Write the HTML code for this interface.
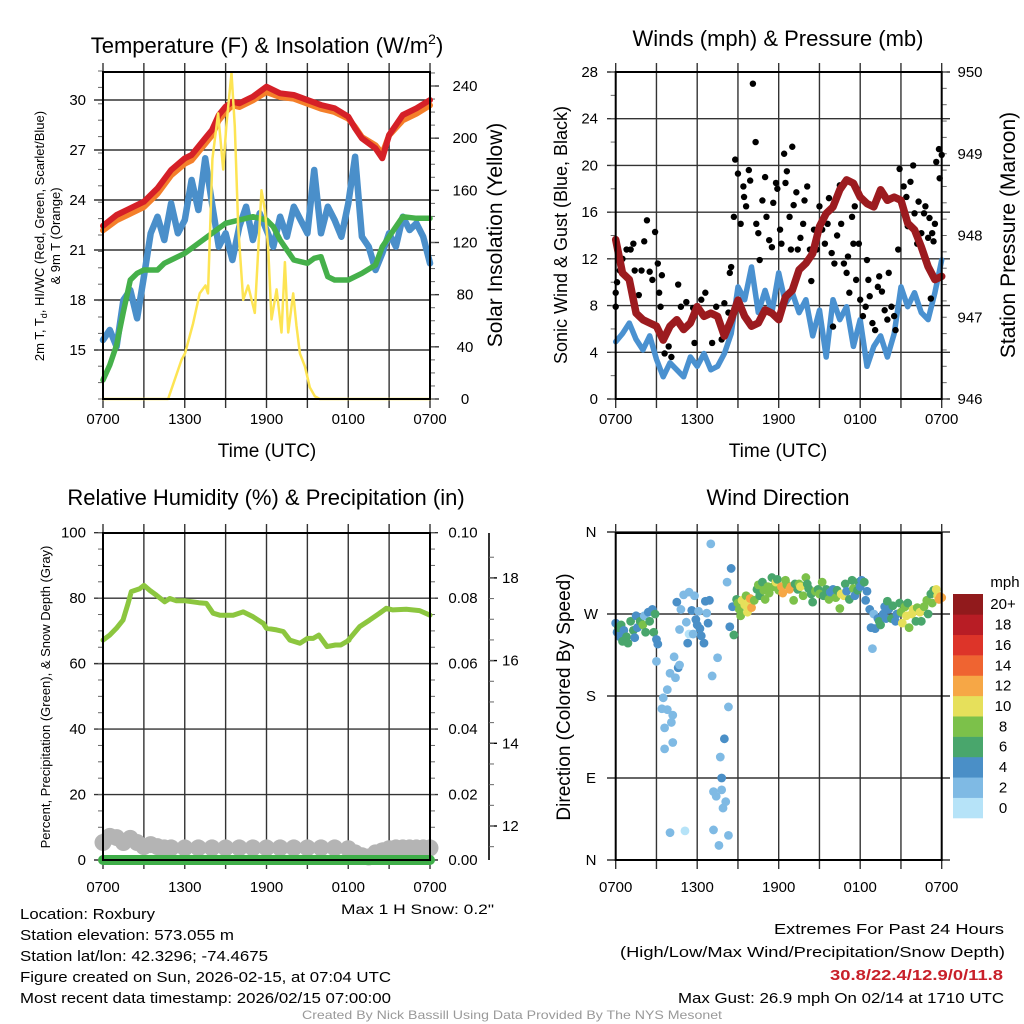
<!DOCTYPE html>
<html><head><meta charset="utf-8"><title>Mesonet Station Meteogram</title>
<style>
html,body{margin:0;padding:0;background:#fff;}
svg{display:block;font-family:"Liberation Sans",Arial,sans-serif;}
</style></head>
<body>
<svg id="chart" width="1024" height="1024" viewBox="0 0 1024 1024" xmlns="http://www.w3.org/2000/svg">
<rect x="0" y="0" width="1024" height="1024" fill="#fff"/>
<g id="titles" font-size="22" text-anchor="middle" fill="#000">
<text x="267" y="53">Temperature (F) &amp; Insolation (W/m<tspan dy="-9" font-size="14">2</tspan><tspan dy="9">)</tspan></text>
<text x="778" y="46">Winds (mph) &amp; Pressure (mb)</text>
<text x="266" y="505">Relative Humidity (%) &amp; Precipitation (in)</text>
<text x="778" y="505">Wind Direction</text>
</g>
<g font-size="19" text-anchor="middle">
<text x="267" y="457">Time (UTC)</text>
<text x="778" y="457">Time (UTC)</text>
</g>
<text transform="translate(44,236) rotate(-90)" font-size="13" text-anchor="middle">2m T, T<tspan font-size="9" dy="3">d</tspan><tspan dy="-3">, HI/WC (Red, Green, Scarlet/Blue)</tspan></text>
<text transform="translate(60,236) rotate(-90)" font-size="13" text-anchor="middle">&amp; 9m T (Orange)</text>
<text transform="translate(502,235) rotate(-90)" font-size="21" text-anchor="middle">Solar Insolation (Yellow)</text>
<text transform="translate(567,235) rotate(-90)" font-size="18" text-anchor="middle">Sonic Wind &amp; Gust (Blue, Black)</text>
<text transform="translate(1015,235) rotate(-90)" font-size="21" text-anchor="middle">Station Pressure (Maroon)</text>
<text transform="translate(50,697) rotate(-90)" font-size="13" text-anchor="middle">Percent, Precipitation (Green), &amp; Snow Depth (Gray)</text>
<text transform="translate(570,697) rotate(-90)" font-size="19" text-anchor="middle">Direction (Colored By Speed)</text>
<text x="1005" y="587" font-size="15" text-anchor="middle">mph</text>
<text x="341" y="914" font-size="14" textLength="153" lengthAdjust="spacingAndGlyphs">Max 1 H Snow: 0.2"</text>
<g font-size="15" fill="#000">
<text x="20" y="919" textLength="135" lengthAdjust="spacingAndGlyphs">Location: Roxbury</text>
<text x="20" y="940" textLength="214" lengthAdjust="spacingAndGlyphs">Station elevation: 573.055 m</text>
<text x="20" y="961" textLength="248" lengthAdjust="spacingAndGlyphs">Station lat/lon: 42.3296; -74.4675</text>
<text x="20" y="982" textLength="371" lengthAdjust="spacingAndGlyphs">Figure created on Sun, 2026-02-15, at 07:04 UTC</text>
<text x="20" y="1003" textLength="371" lengthAdjust="spacingAndGlyphs">Most recent data timestamp: 2026/02/15 07:00:00</text>
<text x="774" y="934" textLength="230" lengthAdjust="spacingAndGlyphs">Extremes For Past 24 Hours</text>
<text x="620" y="957" textLength="385" lengthAdjust="spacingAndGlyphs">(High/Low/Max Wind/Precipitation/Snow Depth)</text>
<text x="830" y="980" textLength="173" lengthAdjust="spacingAndGlyphs" font-weight="bold" fill="#c8202a">30.8/22.4/12.9/0/11.8</text>
<text x="678" y="1003" textLength="326" lengthAdjust="spacingAndGlyphs">Max Gust: 26.9 mph On 02/14 at 1710 UTC</text>
</g>
<text x="302" y="1019" font-size="12" fill="#999" textLength="420" lengthAdjust="spacingAndGlyphs">Created By Nick Bassill Using Data Provided By The NYS Mesonet</text>
</svg>
<script>
// ---------- data ----------
const xTickLabels = ["0700","1300","1900","0100","0700"];
const tempTicks = [15,18,21,24,27,30];
const solarTicks = [0,40,80,120,160,200,240];
const windTicks = [0,4,8,12,16,20,24,28];
const presTicks = [946,947,948,949,950];
const rhTicks = [0,20,40,60,80,100];
const precipTicks = ["0.00","0.02","0.04","0.06","0.08","0.10"];
const snowTicks = [12,14,16,18];
const dirLabels = ["N","E","S","W","N"];
const speedBinLabels = ["0","2","4","6","8","10","12","14","16","18","20+"];
const speedBinColors = ["#b6e3f8","#7fbae4","#4a8fc7","#49a66c","#7cc14a","#e6e05b","#f6a746","#ef6431","#dd3429","#b81d25","#911a1c"];

const tempT = [0,1,2,3,4,5,6,6.5,7,7.5,8,8.5,9,9.5,10,11,12,13,14,15,16,17,18,18.5,19,20,20.5,21,22,23,24];
const tempV = [22.45,23.1,23.5,23.9,24.7,25.8,26.5,26.7,27.2,27.7,28.2,29.1,29.6,29.9,29.8,30.2,30.8,30.4,30.3,30.0,29.7,29.5,29.0,28.3,27.7,27.1,26.5,27.9,29.1,29.5,30.0];
const temp9mV = [22.3,22.9,23.3,23.7,24.5,25.6,26.3,26.5,27.0,27.5,28.0,28.9,29.4,29.8,29.7,30.1,30.6,30.3,30.2,29.9,29.6,29.4,29.0,28.5,27.9,27.4,26.9,28.0,28.9,29.3,29.8];
const dewT = [0,0.5,1,1.5,2,2.5,3,4,4.5,5,6,7,8,9,10,11,12,12.5,13,14,15,15.5,16,16.5,17,18,19,20,20.5,21,22,23,24];
const dewV = [13.2,14.1,15.3,17.3,19.2,19.6,19.8,19.8,20.2,20.4,20.8,21.4,22,22.6,22.8,23,22.8,22.4,21.6,20.4,20.2,20.5,20.6,19.4,19.2,19.2,19.6,20.1,21.2,21.8,23,22.9,22.9];
const chillV = [15.6,16.2,15.2,18,18.6,16.9,19.4,22,23,21.6,23.8,22,22.8,25.2,23.4,26.5,23.8,21.2,22,20.4,22.4,23.6,21.6,23.2,22.2,21.2,23,21.8,23.6,22.8,22,25.8,22,23.6,22.8,21.8,23.8,26.6,21.8,21.2,19.8,20.8,22,21.2,23,22.2,22.6,21.8,20.2];
const solarT = [0,4.78,5.76,6.02,6.61,7.1,7.52,7.71,8.03,8.45,8.82,9.06,9.43,9.67,9.92,10.29,10.65,11.14,11.63,11.88,12.12,12.37,12.74,13.1,13.35,13.59,13.96,14.2,14.45,14.82,15.18,15.55,15.92,24];
const solarV = [0,0,30,35,58,81,87,81,184,219,176,210,250,209,132,76,87,66,160,145,117,61,84,51,105,51,81,56,35,25,9,2,0,0];

const windV = [4.9,5.6,6.5,5.1,4.2,5.4,3.4,1.9,3.1,2.5,1.9,3.6,2.8,3.9,2.5,2.8,3.9,5.6,9.6,8.5,11.3,7.4,9.3,7.4,10.8,8.2,9.1,7.4,8.5,5.4,7.6,3.6,8.5,6.8,7.9,4.5,6.8,2.8,4.5,5.4,3.6,5.6,9.6,7.9,9.1,7.4,6.8,9.1,11.9];
const presV = [947.95,947.54,947.46,947.05,946.97,946.93,946.89,946.72,946.89,946.97,946.85,946.93,947.13,947.01,947.05,947.01,946.77,946.97,947.21,947.01,946.89,946.93,947.09,947.05,946.97,947.25,947.33,947.58,947.66,947.78,948.11,948.27,948.35,948.56,948.68,948.64,948.47,948.39,948.35,948.56,948.43,948.47,948.43,948.15,948.07,947.86,947.62,947.46,947.50];
const gustT = [0,0,0.1,0.3,0.5,0.8,1.1,1.3,1.4,1.7,1.9,2.1,2.3,2.5,2.7,2.9,3.1,3.4,3.2,3.3,3.6,3.9,4.1,4.6,4.8,5.2,5.7,5.8,6.3,6.6,7.1,7.4,7.8,8,8.3,8.4,8.5,8.7,8.8,9,9.2,9.4,9.45,9.6,9.8,9.9,10.1,10.3,10.35,10.5,10.6,10.8,11,11.1,11.3,11.5,11.6,11.8,11.9,12.1,12.2,12.4,12.5,12.6,12.8,12.9,13,13.1,13.3,13.4,13.6,13.8,13.9,14.1,14.3,14.4,14.6,14.8,15,15.2,15.4,15.6,15.7,15.9,16,16.1,16.3,16.5,16.6,16.8,17,17.1,17.2,17.4,17.5,17.6,17.7,17.9,18,18.2,18.4,18.5,18.6,18.7,18.9,19.1,19.3,19.4,19.6,19.8,20,20.1,20.3,20.5,20.6,20.8,20.9,21.2,21.4,21.5,21.7,21.9,22,22.2,22.3,22.5,22.7,22.8,23,23.1,23.2,23.3,23.4,23.5,23.6,23.8,23.85,24];
const gustV = [9.1,7.9,10,11,12,12.8,12.8,13.3,11,8.9,11,13.5,15.3,10.9,10.2,14.3,11.6,10.6,9.1,7.9,3.9,4.5,3.6,9.8,7.9,8.3,7.8,4.8,8.5,9.1,4.8,7.9,5.1,8.2,7.4,10.8,11.3,15.6,20.5,19.3,15,18.2,17.3,16.5,19.6,18.7,27,22,15,14.2,11.9,17,19,15.6,13.6,13,16.8,18.5,18,14.5,13.3,21,18.5,19.5,15.6,12.8,21.6,16.6,17.7,12.8,13.8,15,17,18.2,12.8,10.1,14.5,12.8,16.5,14.5,13.3,15,17.2,12.5,6.2,11.6,14,18.3,15,11.6,10.8,12.2,9.1,15.6,13.3,16.5,10.2,13.3,8.5,7.1,7.9,11.9,10.2,8.8,6.5,5.9,9.6,10.5,9.2,7.6,6.8,10.8,7.9,7.1,5.9,12.8,19.7,18.2,17.3,14.8,18.6,20,15.9,13.3,16.9,14.2,15.9,16.5,13.8,15.5,8.6,14.2,13.5,15,20.3,21.4,18.9,20.9];

const rhT = [0,0.49,0.98,1.47,1.84,2.08,2.69,3.01,3.43,3.92,4.53,4.9,5.39,6.03,7.03,7.59,8.08,8.57,9.55,10.29,11.02,11.76,12.0,12.74,13.23,13.72,14.45,15.01,15.43,15.84,16.45,17.06,17.45,18.06,18.01,18.84,19.57,20.3,20.79,21.28,22.26,23.24,24];
const rhV = [67.2,68.7,70.8,73.3,78.4,82,82.9,83.9,82.4,80.9,78.9,79.9,79.2,79.2,78.6,78.4,75.4,74.8,74.8,75.8,74.3,72.3,70.8,70.3,69.8,67.2,66.2,67.7,67.7,68.7,65.2,65.7,65.7,67.2,67.2,71.3,73.3,75.4,76.9,76.4,76.6,76.2,74.8];
const snowT = [0,0.5,1,1.5,2,2.5,3,3.5,4,4.5,5,6,7,8,9,10,11,12,13,14,15,16,17,18,18.5,19,19.5,20,20.5,21,21.5,22,22.5,23,23.5,24];
const snowV = [11.6,11.75,11.72,11.6,11.7,11.6,11.5,11.55,11.5,11.47,11.47,11.47,11.47,11.47,11.47,11.47,11.47,11.47,11.47,11.47,11.47,11.47,11.47,11.45,11.35,11.28,11.25,11.35,11.4,11.45,11.47,11.47,11.47,11.47,11.47,11.47];
const precipT = [0,6,12,18,24];
const precipV = [0,0,0,0,0];

const dirT = [0,0.1,0.2,0.3,0.4,0.5,0.6,0.8,0.9,1.1,1.3,1.4,1.5,1.6,1.8,2.0,2.1,2.2,2.4,2.5,2.7,2.8,2.9,3.0,3.1,
 3.0,3.5,3.8,4,3.8,3.4,3.6,3.6,4,4.1,4.2,4.2,4.3,4.4,4.6,4.7,4.5,4.7,4.8,5,5.1,5.2,5.3,5.4,5.4,5.6,5.7,5.8,5.9,6,6.1,6.2,6.3,6.5,6.6,6.7,6.8,6.9,7,7.1,7.2,7.2,7.4,7.5,7.6,7.7,7.8,7.8,7.9,8,8.1,8.2,8.3,8.3,8.4,8.5,8.6,8.7,8.9,
 9.0,9.1,9.2,9.3,9.5,9.6,9.7,9.8,9.9,10.0,10.2,10.4,10.5,10.6,10.8,10.9,11.0,11.2,11.3,11.5,11.6,11.8,11.9,12.0,12.2,12.3,12.5,12.6,12.8,12.9,13.1,13.2,13.4,13.5,13.6,13.8,14.0,14.1,14.2,14.4,14.5,14.7,14.9,15.0,15.2,15.3,15.5,15.7,15.8,16.0,16.2,16.3,16.5,16.6,16.8,16.9,17.0,17.2,17.4,17.5,17.6,17.8,17.9,18.0,18.1,18.3,18.4,18.5,18.7,18.8,18.9,19.0,19.1,19.3,19.4,19.5,19.7,19.8,19.9,20.0,20.1,20.3,20.4,20.6,20.7,20.9,21.0,21.1,21.3,21.4,21.5,21.6,21.8,21.9,22.1,22.2,22.4,22.5,22.7,22.9,23.0,23.2,23.3,23.4,23.6,23.7,23.8,23.9,24.0];
const dirD = [260,250,255,245,258,240,252,245,238,262,252,244,268,255,262,258,268,250,272,262,275,250,270,242,237,
 218,178,187,205,165,166,145,122,30,151,129,159,223,200,211,214,283,253,275,291,32,261,238,294,248,274,248,290,264,258,273,254,246,238,284,271,260,285,347,202,33,75,70,222,16,113,77,90,57,133,64,305,168,27,256,320,278,247,286,
 282,275,268,285,280,290,272,283,287,277,285,297,302,290,305,296,286,300,293,310,300,305,308,296,300,293,307,302,297,300,285,303,297,303,300,290,310,303,298,292,283,295,297,292,305,290,297,286,294,297,288,296,276,292,290,303,295,286,307,298,290,296,305,300,307,305,285,295,275,255,232,270,254,265,262,258,270,278,265,284,275,265,279,262,270,282,272,260,278,268,282,255,270,275,262,277,272,262,278,285,270,292,282,296,297,290,286,289,288];
const dirS = [5,4.5,6.5,4.5,7,7,5,7,6.5,6.5,6.5,4.5,4.5,4.5,6.5,8.5,3,6.5,4,6.5,4.5,6.5,6.5,4.5,4.5,
 3,3,3,3,3,3,3,3,3,3,3,3,3,3,4.5,3.5,4.5,3,3,3,1,3,4.5,3,1.5,4.5,2.5,3,4.5,5,3,4.5,5,5,4.5,3,5,4.5,3,3,3,3,3,3,3,3,3,5,3,4.5,3,3,3,3,4.5,4.5,4.5,6.5,6.5,
 9,8.5,8.5,10.5,10.5,9,10.5,11,12.5,13,9,7,8,6.5,6.5,9,8.5,8.5,8.5,7.5,8.5,10.5,6.5,9,12.5,13,9,8,13,12.5,8.5,6.5,6.5,8.5,11,8.5,8.5,6.5,6.5,6.5,6.5,8.5,6.5,8.5,8.5,6.5,6.5,8.5,4.5,4.5,8.5,7,8.5,10.5,10,6.5,4.5,6.5,6.5,8.5,4.5,6.5,6.5,5,4.5,6.5,4.5,4.5,4.5,4.5,3,3,4.5,4.5,6.5,6.5,4.5,4.5,4.5,6.5,4.5,6.5,6.5,4.5,4.5,6.5,8.5,10.5,8.5,10.5,6.5,9,11,10.5,6.5,8.5,10.5,6.5,8.5,8.5,6.5,6.5,8.5,6.5,10.5,10.5,12.5,13,12.5];

// ---------- helpers ----------
const NS = "http://www.w3.org/2000/svg";
const svg = document.getElementById("chart");
function mk(tag, attrs, parent) {
  const e = document.createElementNS(NS, tag);
  for (const k in attrs) e.setAttribute(k, attrs[k]);
  (parent || svg).appendChild(e);
  return e;
}
function txt(x, y, s, size, anchor, parent) {
  const t = mk("text", {x: x, y: y, "font-size": size, "text-anchor": anchor || "middle"}, parent);
  t.textContent = s;
  return t;
}
function pts(ts, vs, fx, fy) {
  return ts.map((t, i) => fx(t).toFixed(1) + "," + fy(vs[i]).toFixed(1)).join(" ");
}
const halfHours = chillV.map((v, i) => i * 0.5);

// ---------- axis functions ----------
const xL = h => 103 + h * 327 / 24;
const xR = h => 615.7 + h * 326 / 24;
const yTemp = v => 399 - (v - 12.06) * 50 / 3;
const ySolar = v => 399 - v * 313 / 240;
const yWind = v => 399 - v * 327 / 28;
const yPres = p => 399 - (p - 946) * 327 / 4;
const yRH = v => 860 - v * 3.273;
const yPrecip = v => 860 - v * 3273;
const ySnow = v => 826 - (v - 12) * 41.35;
const yDir = d => 860 - d * 328 / 360;

function frame(x0, x1, y0, y1, name) {
  const g = mk("g", {});
  
  
  for (let k = 0; k <= 8; k++) {
    const x = x0 + (x1 - x0) * k / 8;
    const l = mk("line", {x1: x, x2: x, y1: y0 - 9, y2: y1 + 9, stroke: "#333", "stroke-width": 1.4}, g);
    
    
  }
  for (let k = 0; k < 5; k++) {
    const lab = txt(x0 + (x1 - x0) * k / 4, y1 + 25, xTickLabels[k], 15, "middle", g);
    
    
  }
  return g;
}
function box(x0, x1, y0, y1) {
  const r = mk("rect", {x: x0, y: y0, width: x1 - x0, height: y1 - y0, fill: "none", stroke: "#000", "stroke-width": 2});
  
  
}
function hgrid(g, vals, fy, xa, xb, labX, fmt, anchor) {
  vals.forEach((v, i) => {
    const y = fy(v);
    const l = mk("line", {x1: xa, x2: xb, y1: y, y2: y, stroke: "#333", "stroke-width": 1.4}, g);
    
    
    const t = txt(labX, y + 5, fmt ? fmt(v, i) : String(v), 15, anchor || "end", g);
    
    
  });
}
function minor(g, x, dir, ya, yb, n) {
  for (let k = 0; k <= n; k++) {
    const y = ya + (yb - ya) * k / n;
    const l = mk("line", {x1: x, x2: x + dir * 5, y1: y, y2: y, stroke: "#666", "stroke-width": 1}, g);
    
    
  }
}
function line(ts, vs, fx, fy, color, w, name) {
  const p = mk("polyline", {points: pts(ts, vs, fx, fy), fill: "none", stroke: color, "stroke-width": w, "stroke-linejoin": "round", "stroke-linecap": "round"});
  
  
  return p;
}

// ---------- panel 1: temperature ----------
const g1 = frame(103, 430, 72, 399, "temperature-panel");
hgrid(g1, tempTicks, yTemp, 94, 430, 86);
minor(g1, 103, -1, yTemp(12.06), yTemp(31.74), 20);
solarTicks.forEach(v => {
  const l = mk("line", {x1: 430, x2: 439, y1: ySolar(v), y2: ySolar(v), stroke: "#333", "stroke-width": 1.4}, g1);
  
  
  const t = txt(465, ySolar(v) + 5, String(v), 15, "middle", g1);
  
  
});
minor(g1, 430, 1, ySolar(0), ySolar(250), 25);
line(tempT, temp9mV, xL, v => yTemp(v) + 2, "#f47f2a", 6, "9m-temperature-line");
line(tempT, tempV, xL, yTemp, "#d52027", 6, "temperature-line");
line(halfHours, chillV, xL, yTemp, "#4a8fca", 6.5, "wind-chill-line");
line(dewT, dewV, xL, yTemp, "#45b04a", 5.5, "dewpoint-line");
line(solarT, solarV, xL, v => Math.max(72, ySolar(v)), "#fde453", 2.5, "solar-insolation-line");
box(103, 430, 72, 399);

// ---------- panel 2: winds ----------
const g2 = frame(615.7, 941.7, 72, 399, "winds-panel");
hgrid(g2, windTicks, yWind, 607, 950, 598);
minor(g2, 615.7, -1, yWind(0), yWind(28), 14);
presTicks.forEach(p => {
  const t = txt(970, yPres(p) + 5, String(p), 15, "middle", g2);
  
  
});
minor(g2, 941.7, 1, yPres(946), yPres(950), 20);
line(halfHours, windV, xR, yWind, "#4a91d0", 5.5, "sonic-wind-line");
gustT.forEach((t, i) => {
  const c = mk("circle", {cx: xR(t), cy: yWind(gustV[i]), r: 3.2, fill: "#000"});
  
  
});
line(halfHours, presV, xR, yPres, "#9c1b1f", 7.5, "pressure-line");
box(615.7, 941.7, 72, 399);

// ---------- panel 3: humidity ----------
const g3 = frame(103, 430, 533, 860, "humidity-panel");
g3.querySelectorAll("text").forEach(t => t.setAttribute("y", 892));
hgrid(g3, rhTicks, yRH, 94, 438, 86);
minor(g3, 103, -1, yRH(0), yRH(100), 20);
minor(g3, 430, 1, yRH(0), yRH(100), 20);
precipTicks.forEach((s, i) => {
  const t = txt(463, yPrecip(Number(s)) + 5, s, 15, "middle", g3);
  
  
});
const snowAxis = mk("line", {x1: 489, x2: 489, y1: 533, y2: 860, stroke: "#000", "stroke-width": 1.6}, g3);


snowTicks.forEach(v => {
  const l = mk("line", {x1: 489, x2: 497, y1: ySnow(v), y2: ySnow(v), stroke: "#000", "stroke-width": 1.4}, g3);
  
  
  const t = txt(502, ySnow(v) + 5, String(v), 15, "start", g3);
  
  
});
minor(g3, 489, 1, ySnow(18.5), ySnow(11.5), 14);
snowT.forEach((t, i) => {
  const c = mk("circle", {cx: xL(t), cy: ySnow(snowV[i]), r: 8.5, fill: "#b4b4b4"});
  
  
});
line(precipT, precipV, xL, yPrecip, "#3fae49", 10, "precipitation-line");
line(rhT, rhV, xL, yRH, "#8cc63f", 5, "relative-humidity-line");
box(103, 430, 533, 860);

// ---------- panel 4: wind direction ----------
const g4 = frame(615.7, 941.7, 533, 860, "wind-direction-panel");
g4.querySelectorAll("text").forEach(t => t.setAttribute("y", 892));
hgrid(g4, [0, 90, 180, 270, 360], yDir, 607, 950, 591, (v, i) => dirLabels[i], "middle");
dirT.forEach((t, i) => {
  const bin = Math.min(10, Math.floor(dirS[i] / 2));
  const c = mk("circle", {cx: xR(t), cy: yDir(dirD[i]), r: 4.4, fill: speedBinColors[bin]});
  
  
});
box(615.7, 941.7, 533, 860);

// colorbar
const gc = mk("g", {});


speedBinColors.forEach((c, i) => {
  const h = 224 / 11;
  const y = 818 - (i + 1) * h;
  const r = mk("rect", {x: 953, y: y, width: 30, height: h + 0.3, fill: c}, gc);
  
  
  const t = txt(1003, y + h / 2 + 5, speedBinLabels[i], 15, "middle", gc);
  
  
});
</script>
</body></html>
